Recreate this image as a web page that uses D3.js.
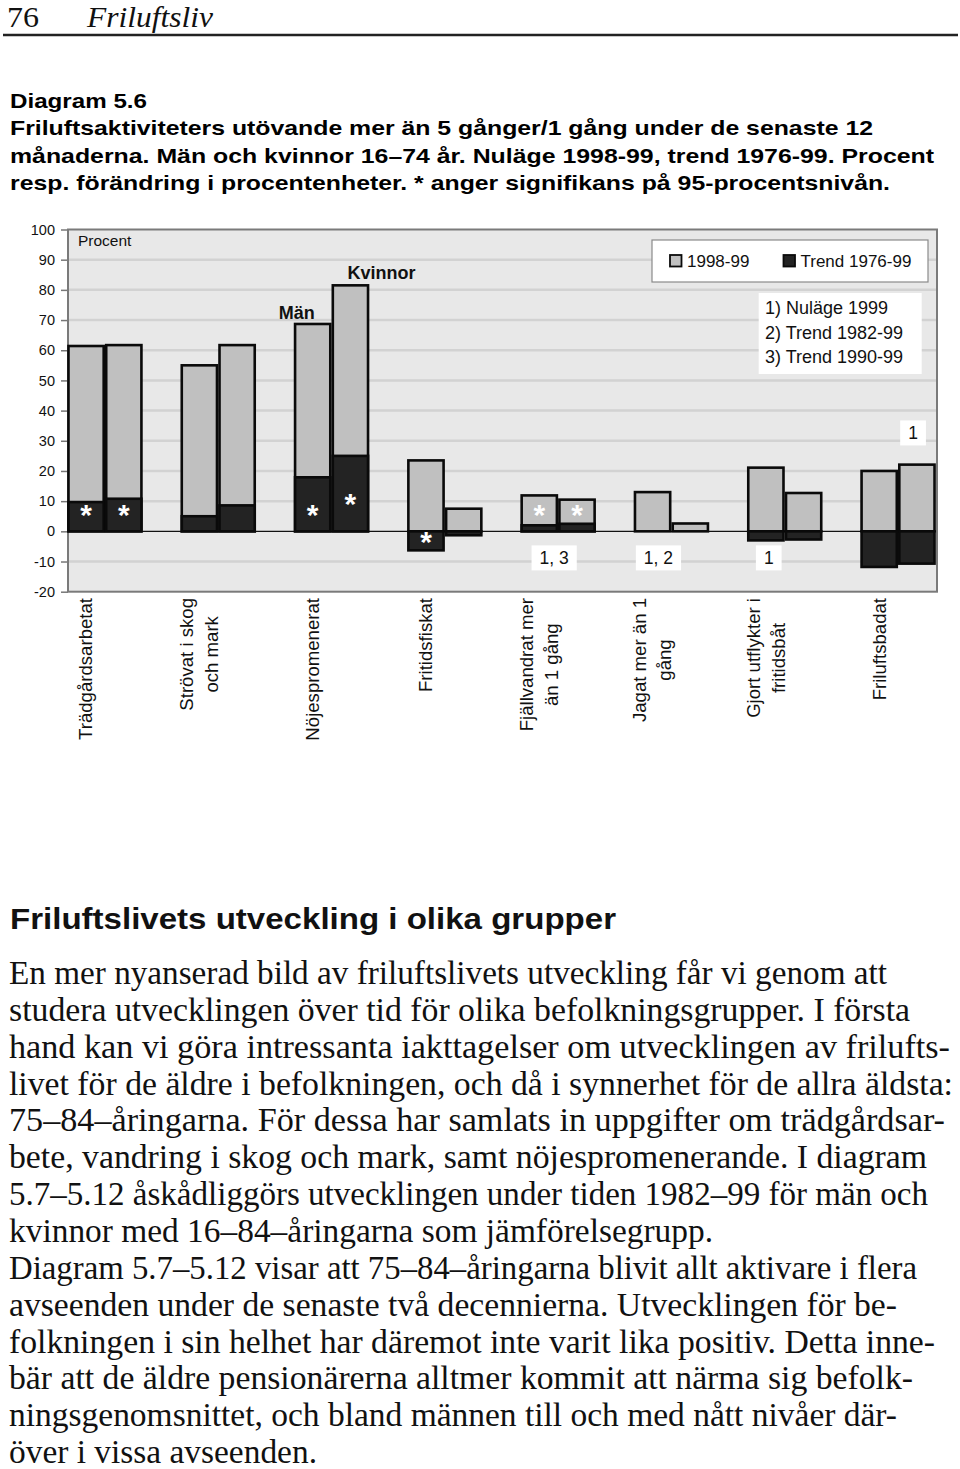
<!DOCTYPE html>
<html><head><meta charset="utf-8">
<script src="https://cdn.jsdelivr.net/npm/d3@7/dist/d3.min.js"></script>
<style>
html,body{margin:0;padding:0;background:#fff;}
svg{display:block;}
</style></head>
<body>
<script>
// ---------- DATA ----------
const categories = ["Trädgårdsarbetat","Strövat i skog och mark","Nöjespromenerat","Fritidsfiskat",
  "Fjällvandrat mer än 1 gång","Jagat mer än 1 gång","Gjort utflykter i fritidsbåt","Friluftsbadat"];
const categoryLines = [["Trädgårdsarbetat"],["Strövat i skog","och mark"],["Nöjespromenerat"],["Fritidsfiskat"],
  ["Fjällvandrat mer","än 1 gång"],["Jagat mer än 1","gång"],["Gjort utflykter i","fritidsbåt"],["Friluftsbadat"]];
const groups = ["Män","Kvinnor"];
const nulageMan     = [61.4, 55.0, 68.7, 23.5, 11.9, 13.0, 21.1, 20.0];
const nulageKvinnor = [61.7, 61.7, 81.5,  7.5, 10.5,  2.6, 12.7, 22.1];
const trendMan      = [ 9.7,  5.0, 17.9, -6.3,  2.0,  0.0, -3.0, -11.8];
const trendKvinnor  = [10.8,  8.6, 25.0, -1.3,  2.5,  0.0, -2.7, -10.7];
const sigMan        = [true, false, true, true, true, false, false, false];
const sigKvinnor    = [true, false, true, false, true, false, false, false];
const yTicks = [-20,-10,0,10,20,30,40,50,60,70,80,90,100];
const seriesNames = ["1998-99","Trend 1976-99"];
const footnotes = ["1) Nuläge 1999","2) Trend 1982-99","3) Trend 1990-99"];
const barNotes = [
  {cat:"Fjällvandrat mer än 1 gång", text:"1, 3"},
  {cat:"Jagat mer än 1 gång", text:"1, 2"},
  {cat:"Gjort utflykter i fritidsbåt", text:"1"},
  {cat:"Friluftsbadat", text:"1", above:true}
];
const titleLines = ["Diagram 5.6",
  "Friluftsaktiviteters utövande mer än 5 gånger/1 gång under de senaste 12",
  "månaderna. Män och kvinnor 16–74 år. Nuläge 1998-99, trend 1976-99. Procent",
  "resp. förändring i procentenheter. * anger signifikans på 95-procentsnivån."];
const heading = "Friluftslivets utveckling i olika grupper";
const bodyLines = [
  "En mer nyanserad bild av friluftslivets utveckling får vi genom att",
  "studera utvecklingen över tid för olika befolkningsgrupper. I första",
  "hand kan vi göra intressanta iakttagelser om utvecklingen av frilufts-",
  "livet för de äldre i befolkningen, och då i synnerhet för de allra äldsta:",
  "75–84–åringarna. För dessa har samlats in uppgifter om trädgårdsar-",
  "bete, vandring i skog och mark, samt nöjespromenerande. I diagram",
  "5.7–5.12 åskådliggörs utvecklingen under tiden 1982–99 för män och",
  "kvinnor med 16–84–åringarna som jämförelsegrupp.",
  "Diagram 5.7–5.12 visar att 75–84–åringarna blivit allt aktivare i flera",
  "avseenden under de senaste två decennierna. Utvecklingen för be-",
  "folkningen i sin helhet har däremot inte varit lika positiv. Detta inne-",
  "bär att de äldre pensionärerna alltmer kommit att närma sig befolk-",
  "ningsgenomsnittet, och bland männen till och med nått nivåer där-",
  "över i vissa avseenden."];

// ---------- LAYOUT ----------
const W = 960, H = 1469;
const plot = {l:68, r:937, t:229.5, b:591.7};
const titleEnds = [147, 873, 934, 890];
const bodyEnds = [887, 910, 950, 953, 945, 927, 928, 713, 917, 897, 935, 913, 897, 317];
const noteDx = [-4, -13, -16, 15];

const svg = d3.select("body").append("svg").attr("width", W).attr("height", H);
const SANS = "'Liberation Sans', Arial, sans-serif";
const SERIF = "'Liberation Serif', 'Times New Roman', serif";

// header
svg.append("text").attr("x", 7).attr("y", 27).attr("font-family", SERIF).attr("font-size", 29)
  .attr("fill", "#111").attr("textLength", 32).attr("lengthAdjust", "spacingAndGlyphs").text("76");
svg.append("text").attr("x", 87).attr("y", 27).attr("font-family", SERIF).attr("font-size", 29)
  .attr("font-style", "italic").attr("fill", "#111").attr("textLength", 126).attr("lengthAdjust", "spacingAndGlyphs").text("Friluftsliv");
svg.append("line").attr("x1", 3).attr("x2", 958).attr("y1", 35).attr("y2", 35)
  .attr("stroke", "#222").attr("stroke-width", 2.5);

// title
titleLines.forEach((t, i) => {
  svg.append("text").attr("x", 10).attr("y", 107.5 + i * 27.6)
    .attr("font-family", SANS).attr("font-weight", "bold").attr("font-size", 21)
    .attr("fill", "#000").attr("textLength", titleEnds[i] - 10).attr("lengthAdjust", "spacingAndGlyphs").text(t);
});

// ---------- CHART ----------
const y = d3.scaleLinear().domain([-20, 100]).range([plot.b, plot.t]);
const x = d3.scaleBand().domain(categories).range([48.3, 954.7]).paddingInner(0.356).paddingOuter(0.178);
const xi = d3.scaleBand().domain(groups).range([0, x.bandwidth()]).paddingInner(0.067);

const g = svg.append("g");
g.append("rect").attr("x", plot.l).attr("y", plot.t).attr("width", plot.r - plot.l).attr("height", plot.b - plot.t)
  .attr("fill", "#e8e8e8");
g.selectAll("line.grid").data(yTicks.filter(v => v !== 0 && v !== -20 && v !== 100)).enter().append("line")
  .attr("class", "grid").attr("x1", plot.l).attr("x2", plot.r)
  .attr("y1", d => y(d)).attr("y2", d => y(d)).attr("stroke", "#d2d2d2").attr("stroke-width", 2.5);

// y axis
const yAxis = d3.axisLeft(y).tickValues(yTicks).tickSize(7).tickPadding(6).tickFormat(d => String(d));
const ya = g.append("g").attr("transform", `translate(${plot.l},0)`).call(yAxis);
ya.select(".domain").remove();
ya.selectAll(".tick line").attr("stroke", "#777").attr("stroke-width", 1.5);
ya.selectAll(".tick text").attr("font-family", SANS).attr("font-size", 14.5).attr("fill", "#111");

// zero line
g.append("line").attr("x1", plot.l).attr("x2", plot.r).attr("y1", y(0)).attr("y2", y(0))
  .attr("stroke", "#111").attr("stroke-width", 1.2);

// plot border
g.append("rect").attr("x", plot.l).attr("y", plot.t).attr("width", plot.r - plot.l).attr("height", plot.b - plot.t)
  .attr("fill", "none").attr("stroke", "#7a7a7a").attr("stroke-width", 2);

// bars
const rows = [];
categories.forEach((c, i) => {
  rows.push({cat: c, grp: "Män", now: nulageMan[i], trend: trendMan[i], sig: sigMan[i], i});
  rows.push({cat: c, grp: "Kvinnor", now: nulageKvinnor[i], trend: trendKvinnor[i], sig: sigKvinnor[i], i});
});
const bx = d => x(d.cat) + xi(d.grp);
g.selectAll("rect.now").data(rows).enter().append("rect").attr("class", "now")
  .attr("x", bx).attr("width", xi.bandwidth())
  .attr("y", d => y(Math.max(0, d.now))).attr("height", d => Math.abs(y(d.now) - y(0)))
  .attr("fill", "#c0c0c0").attr("stroke", "#0a0a0a").attr("stroke-width", 2.6);
g.selectAll("rect.trend").data(rows.filter(d => d.trend !== 0)).enter().append("rect").attr("class", "trend")
  .attr("x", bx).attr("width", xi.bandwidth())
  .attr("y", d => y(Math.max(0, d.trend))).attr("height", d => Math.abs(y(d.trend) - y(0)))
  .attr("fill", "#232323").attr("stroke", "#0a0a0a").attr("stroke-width", 2.6);

// significance asterisks
const sigAt = d => d.trend < 0 ? d.trend * 0.2 : (d.trend > 20 ? 11.4 : 7.6);
g.selectAll("text.sig").data(rows.filter(d => d.sig)).enter().append("text").attr("class", "sig")
  .attr("x", d => bx(d) + xi.bandwidth() / 2).attr("y", d => y(sigAt(d)) + 17)
  .attr("text-anchor", "middle").attr("font-family", SANS).attr("font-weight", "bold")
  .attr("font-size", 30).attr("fill", "#fff").text("*");

// Män / Kvinnor labels
const cat3 = categories[2];
g.append("text").attr("x", x(cat3) + xi("Män") + xi.bandwidth() / 2 - 16).attr("y", y(nulageMan[2]) - 4.5)
  .attr("text-anchor", "middle").attr("font-family", SANS).attr("font-weight", "bold").attr("font-size", 18)
  .attr("fill", "#111").text("Män");
g.append("text").attr("x", x(cat3) + xi("Kvinnor") + xi.bandwidth() / 2 + 31).attr("y", y(nulageKvinnor[2]) - 6.5)
  .attr("text-anchor", "middle").attr("font-family", SANS).attr("font-weight", "bold").attr("font-size", 18)
  .attr("fill", "#111").text("Kvinnor");

// Procent
g.append("text").attr("x", 78).attr("y", 245.5).attr("font-family", SANS).attr("font-size", 15.5)
  .attr("fill", "#111").text("Procent");

// legend
const lg = g.append("g");
lg.append("rect").attr("x", 652).attr("y", 240).attr("width", 276).attr("height", 42)
  .attr("fill", "#fff").attr("stroke", "#8a8a8a").attr("stroke-width", 1.2);
const legX = [670, 783.5];
const legFill = ["#c0c0c0", "#232323"];
seriesNames.forEach((s, i) => {
  lg.append("rect").attr("x", legX[i]).attr("y", 255).attr("width", 11.5).attr("height", 11.5)
    .attr("fill", legFill[i]).attr("stroke", "#0a0a0a").attr("stroke-width", 1.8);
  lg.append("text").attr("x", legX[i] + 17).attr("y", 267).attr("font-family", SANS).attr("font-size", 17)
    .attr("fill", "#111").text(s);
});

// footnote box
const fg = g.append("g");
fg.append("rect").attr("x", 758.7).attr("y", 293).attr("width", 163).attr("height", 81).attr("fill", "#fff");
footnotes.forEach((t, i) => {
  fg.append("text").attr("x", 765).attr("y", 314.3 + i * 24.5).attr("font-family", SANS).attr("font-size", 18)
    .attr("fill", "#111").text(t);
});

// bar notes
barNotes.forEach((n, i) => {
  const cx = x(n.cat) + x.bandwidth() / 2 + noteDx[i];
  const cy = n.above ? y(32.6) : y(-8.8);
  const t = g.append("text").attr("x", cx).attr("y", cy + 6.5).attr("text-anchor", "middle")
    .attr("font-family", SANS).attr("font-size", 17.5).attr("fill", "#111").text(n.text);
  const w = t.node().getComputedTextLength();
  g.insert("rect", () => t.node()).attr("x", cx - w / 2 - 8).attr("y", cy - 12.5)
    .attr("width", w + 16).attr("height", 25).attr("fill", "#fff");
});

// x labels (rotated)
categoryLines.forEach((lines, i) => {
  const cx = x(categories[i]) + x.bandwidth() / 2 - 19;
  const lh = 25;
  const grp = g.append("g");
  const texts = lines.map((ln, j) => grp.append("text").attr("font-family", SANS).attr("font-size", 18.6)
    .attr("fill", "#111").attr("text-anchor", "middle").text(ln));
  const maxW = d3.max(texts, t => t.node().getComputedTextLength());
  const yc = 598 + maxW / 2;
  texts.forEach((t, j) => {
    const lx = cx - (lines.length - 1) * lh / 2 + j * lh + 6.5;
    t.attr("transform", `translate(${lx},${yc}) rotate(-90)`);
  });
});

// ---------- BODY TEXT ----------
svg.append("text").attr("x", 10).attr("y", 929).attr("font-family", SANS).attr("font-weight", "bold")
  .attr("font-size", 30).attr("fill", "#111").attr("textLength", 606).attr("lengthAdjust", "spacingAndGlyphs")
  .text(heading);
bodyLines.forEach((t, i) => {
  svg.append("text").attr("x", 9).attr("y", 984 + i * 36.85).attr("font-family", SERIF).attr("font-size", 33)
    .attr("fill", "#111").attr("textLength", bodyEnds[i] - 9).attr("lengthAdjust", "spacingAndGlyphs").text(t);
});
</script>
</body></html>
